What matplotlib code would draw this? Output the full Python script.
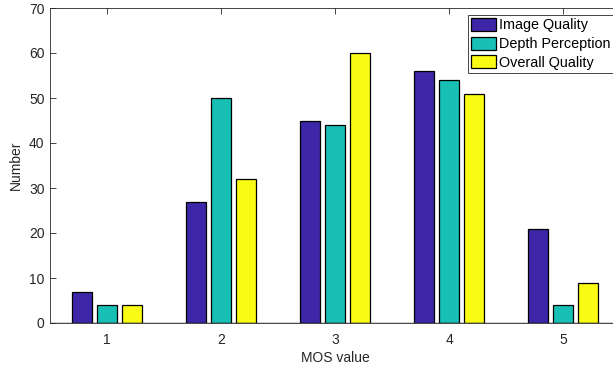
import matplotlib
matplotlib.use("Agg")
import matplotlib.pyplot as plt
import numpy as np

plt.rcParams['font.family'] = ['Liberation Sans', 'DejaVu Sans']

categories = [1, 2, 3, 4, 5]
series_names = ["Image Quality", "Depth Perception", "Overall Quality"]
image_quality = [7, 27, 45, 56, 21]
depth_perception = [4, 50, 44, 54, 4]
overall_quality = [4, 32, 60, 51, 9]
colors = ["#3e26a8", "#17bfb4", "#f9fb15"]

fig = plt.figure(figsize=(6.13, 3.69), dpi=100)
ax = fig.add_axes([50/613, 1-323/369, 570/613, 315/369])

x = np.array(categories, dtype=float)
offset = 0.2222
width = 0.178
for i, (vals, name, c) in enumerate(zip([image_quality, depth_perception, overall_quality], series_names, colors)):
    ax.bar(x + (i-1)*offset, vals, width, color=c, edgecolor='black', linewidth=0.9, label=name, zorder=2)

ax.set_xlim(0.5, 5.5)
ax.set_ylim(0, 70)
ax.set_xticks(categories)
ax.set_yticks(range(0, 71, 10))
ax.tick_params(direction='in', top=True, right=True, length=4, width=0.6,
               colors='#262626', labelsize=10, labelcolor='#262626')
ax.tick_params(axis='x', pad=7)
ax.tick_params(axis='y', pad=4)
for s in ax.spines.values():
    s.set_color('#262626')
    s.set_linewidth(0.6)
ax.axhline(0, color='#262626', linewidth=1.0, zorder=3)
ax.set_xlabel("MOS value", fontsize=10, color='#262626', labelpad=3)
ax.set_ylabel("Number", fontsize=10, color='#262626', labelpad=4)

leg = ax.legend(loc='upper right', bbox_to_anchor=(1.0, 1-15/369), bbox_transform=fig.transFigure,
                fancybox=False, framealpha=1, edgecolor='#262626', fontsize=10.4,
                handlelength=1.75, handleheight=1.0, handletextpad=0.15,
                labelspacing=0.3, borderpad=0.2, borderaxespad=0)
leg.get_frame().set_linewidth(0.6)

fig.savefig("out.png", dpi=100)
